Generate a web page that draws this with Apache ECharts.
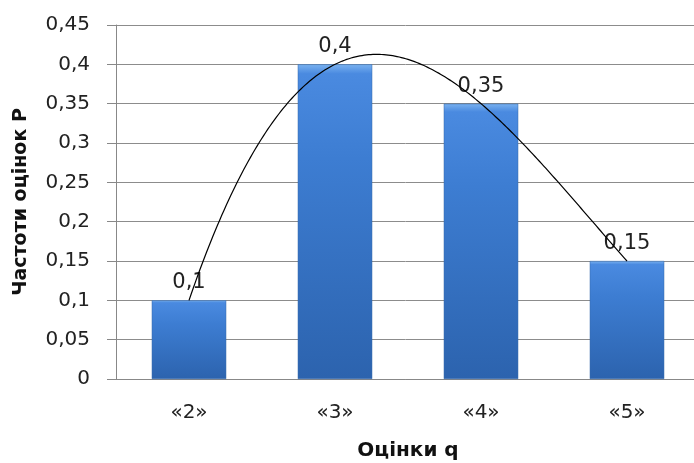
<!DOCTYPE html>
<html><head><meta charset="utf-8">
<script src="https://cdn.jsdelivr.net/npm/echarts@6/dist/echarts.min.js"></script>
<style>html,body{margin:0;padding:0;background:#fff}#c{width:694px;height:463px}</style>
</head><body><div id="c"></div>
<script>
const categories = ['«2»', '«3»', '«4»', '«5»'];
const frequencies = [0.1, 0.4, 0.35, 0.15];
const labelTexts = ['0,1', '0,4', '0,35', '0,15'];
const yTicks = [0, 0.05, 0.1, 0.15, 0.2, 0.25, 0.3, 0.35, 0.4, 0.45];

const chart = echarts.init(document.getElementById('c'));
const fmt = v => String(+v.toFixed(2)).replace('.', ',');
const FONT = 'DejaVu Sans';

// polynomial trendline (order = n-1) through the series points, drawn in pixel space
function renderTrend(params, api) {
  if (params.dataIndex !== 0) return null;
  const pts = frequencies.map((v, i) => api.coord([i, v]));
  const n = pts.length;
  const xs = pts.map(p => p[0]);
  const lag = x => {
    let s = 0;
    for (let i = 0; i < n; i++) {
      let t = pts[i][1];
      for (let j = 0; j < n; j++) if (j !== i) t *= (x - xs[j]) / (xs[i] - xs[j]);
      s += t;
    }
    return s;
  };
  const poly = [];
  const x0 = xs[0], x1 = xs[n - 1];
  for (let k = 0; k <= 200; k++) {
    const x = x0 + (x1 - x0) * k / 200;
    poly.push([x, lag(x)]);
  }
  return {
    type: 'polyline', shape: { points: poly },
    style: { stroke: '#000', lineWidth: 1.2, fill: null }
  };
}

chart.setOption({
  animation: false,
  grid: { left: 116, top: 25, width: 584, height: 354, outerBoundsMode: 'none' },
  xAxis: {
    type: 'category', data: categories,
    name: 'Оцінки q', nameLocation: 'middle', nameGap: 62,
    nameTextStyle: { fontFamily: FONT, fontWeight: 'bold', fontSize: 20, color: '#111' },
    axisLine: { lineStyle: { color: '#888' } },
    axisTick: { length: 8, lineStyle: { color: '#888' } },
    axisLabel: { fontFamily: FONT, fontSize: 20, color: '#222', margin: 24 }
  },
  yAxis: {
    type: 'value', min: 0, max: 0.45, interval: 0.05,
    name: 'Частоти оцінок P', nameLocation: 'middle', nameGap: 85, nameRotate: 90,
    nameTextStyle: { fontFamily: FONT, fontWeight: 'bold', fontSize: 19, color: '#111' },
    axisLine: { show: true, lineStyle: { color: '#888' } },
    axisTick: { show: true, length: 9, lineStyle: { color: '#888' } },
    splitLine: { lineStyle: { color: '#8c8c8c' } },
    axisLabel: { fontFamily: FONT, fontSize: 20, color: '#222', margin: 26, formatter: v => fmt(v) }
  },
  series: [
    {
      type: 'bar', data: frequencies, barWidth: '51%',
      itemStyle: {
        color: new echarts.graphic.LinearGradient(0, 0, 0, 1, [
          { offset: 0, color: '#7ab2f0' },
          { offset: 0.03, color: '#4a8ae0' },
          { offset: 0.3, color: '#3d7dd2' },
          { offset: 1, color: '#2c63ae' }
        ]),
        borderColor: '#2d62a8', borderWidth: 0.5
      },
      label: {
        show: true, position: 'top', distance: 7,
        fontFamily: FONT, fontSize: 21, color: '#222',
        formatter: p => labelTexts[p.dataIndex]
      },
      z: 2
    },
    {
      type: 'custom', data: frequencies.map((v, i) => [i, v]),
      renderItem: renderTrend, z: 5, silent: true
    }
  ]
});
</script></body></html>
